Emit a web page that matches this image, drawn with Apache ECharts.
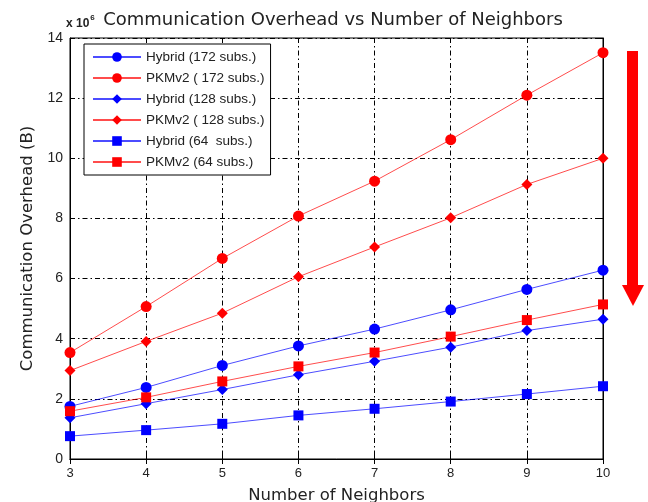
<!DOCTYPE html>
<html><head><meta charset="utf-8">
<script src="https://cdn.jsdelivr.net/npm/echarts@6/dist/echarts.min.js"></script>
<style>html,body{margin:0;padding:0;background:#fff}#c{width:648px;height:502px}</style>
</head><body><div id="c"></div>
<script>
var neighbors = [3, 4, 5, 6, 7, 8, 9, 10];
var yTicks = [0, 2, 4, 6, 8, 10, 12, 14];
var hybrid172 = [1.75, 2.38, 3.11, 3.76, 4.32, 4.96, 5.64, 6.28];
var pkm172 = [3.54, 5.07, 6.67, 8.08, 9.24, 10.62, 12.10, 13.51];
var hybrid128 = [1.37, 1.84, 2.31, 2.80, 3.25, 3.72, 4.27, 4.65];
var pkm128 = [2.94, 3.91, 4.85, 6.06, 7.05, 8.02, 9.13, 10.0];
var hybrid64 = [0.76, 0.96, 1.17, 1.45, 1.67, 1.91, 2.16, 2.42];
var pkm64 = [1.59, 2.05, 2.58, 3.08, 3.54, 4.07, 4.62, 5.14];
var seriesNames = ['Hybrid (172 subs.)', 'PKMv2 ( 172 subs.)', 'Hybrid (128 subs.)', 'PKMv2 ( 128 subs.)', 'Hybrid (64  subs.)', 'PKMv2 (64 subs.)'];

var FONT = 'Liberation Sans, Arial, sans-serif';
var WIDE = 'DejaVu Sans, sans-serif';
function pairs(v){ return neighbors.map(function(x,i){ return [x, v[i]]; }); }
function mk(name, vals, color, symbol, size){
  return {
    name: name, type: 'line', data: pairs(vals), symbol: symbol, symbolSize: size,
    showAllSymbol: true,
    lineStyle: {color: color, width: 1, opacity: 0.7},
    itemStyle: {color: color},
    emphasis: {disabled: true}, animation: false, z: 3
  };
}
var dashDot = [5, 3, 1.5, 3];
var chart = echarts.init(document.getElementById('c'), null, {renderer: 'canvas'});
chart.setOption({
  animation: false,
  backgroundColor: '#fff',
  title: [{
    text: 'Communication Overhead vs Number of Neighbors',
    left: 328, top: 6, textAlign: 'center',
    textStyle: {fontFamily: WIDE, fontSize: 18, fontWeight: 'normal', color: '#222'}
  }, {
    text: '{a|x 10}{b|6}',
    left: 61, top: 9,
    textStyle: {rich: {
      a: {fontFamily: FONT, fontSize: 12, color: '#222', verticalAlign: 'bottom'},
      b: {fontFamily: FONT, fontSize: 8, color: '#222', verticalAlign: 'top', padding: [0,0,8,1]}
    }}
  }],
  grid: {left: 70, right: 45, top: 38, bottom: 43, show: true, borderColor: '#000', borderWidth: 1,
    backgroundColor: 'transparent', outerBoundsMode: 'none', containLabel: false},
  legend: {
    orient: 'vertical', left: 84, top: 44,
    backgroundColor: '#fff', borderColor: '#000', borderWidth: 1,
    padding: [6, 6, 6, 8], itemGap: 7, itemWidth: 48, itemHeight: 12,
    textStyle: {fontFamily: FONT, fontSize: 13.5, color: '#222'},
    data: seriesNames
  },
  xAxis: [{
    type: 'value', min: 3, max: 10, interval: 1,
    name: 'Number of Neighbors', nameLocation: 'middle', nameGap: 28,
    nameTextStyle: {fontFamily: WIDE, fontSize: 16.5, color: '#222'},
    axisLine: {show: true, lineStyle: {color: '#000'}},
    axisTick: {show: true, inside: true, length: 5, lineStyle: {color: '#000'}},
    axisLabel: {fontFamily: FONT, fontSize: 13, color: '#222', margin: 8},
    splitLine: {show: true, lineStyle: {color: '#000', type: dashDot, width: 1}}
  }, {
    type: 'value', min: 3, max: 10, interval: 1, position: 'top',
    axisLine: {show: true, lineStyle: {color: '#000'}},
    axisTick: {show: true, inside: true, length: 5, lineStyle: {color: '#000'}},
    axisLabel: {show: false}, splitLine: {show: false}
  }],
  yAxis: [{
    type: 'value', min: 0, max: 14, interval: 2,
    name: 'Communication Overhead (B)', nameLocation: 'middle', nameGap: 31, nameRotate: 90,
    nameTextStyle: {fontFamily: WIDE, fontSize: 16.5, color: '#222'},
    axisLine: {show: true, lineStyle: {color: '#000'}},
    axisTick: {show: true, inside: true, length: 5, lineStyle: {color: '#000'}},
    axisLabel: {fontFamily: FONT, fontSize: 14, color: '#222', margin: 7,
      formatter: function(v){ return yTicks.indexOf(v) >= 0 ? String(v) : ''; }},
    splitLine: {show: true, lineStyle: {color: '#000', type: dashDot, width: 1}}
  }, {
    type: 'value', min: 0, max: 14, interval: 2, position: 'right',
    axisLine: {show: true, lineStyle: {color: '#000'}},
    axisTick: {show: true, inside: true, length: 5, lineStyle: {color: '#000'}},
    axisLabel: {show: false}, splitLine: {show: false}
  }],
  series: [
    mk(seriesNames[0], hybrid172, '#0000ff', 'circle', 11),
    mk(seriesNames[1], pkm172, '#ff0000', 'circle', 11),
    mk(seriesNames[2], hybrid128, '#0000ff', 'diamond', 11),
    mk(seriesNames[3], pkm128, '#ff0000', 'diamond', 11),
    mk(seriesNames[4], hybrid64, '#0000ff', 'rect', 10),
    mk(seriesNames[5], pkm64, '#ff0000', 'rect', 10)
  ],
  graphic: [{
    type: 'rect', left: 627, top: 51, shape: {width: 11, height: 236},
    style: {fill: '#ff0000'}, z: 10
  }, {
    type: 'polygon', shape: {points: [[622, 285], [644, 285], [633, 306]]},
    style: {fill: '#ff0000'}, z: 10
  }]
});
</script></body></html>
